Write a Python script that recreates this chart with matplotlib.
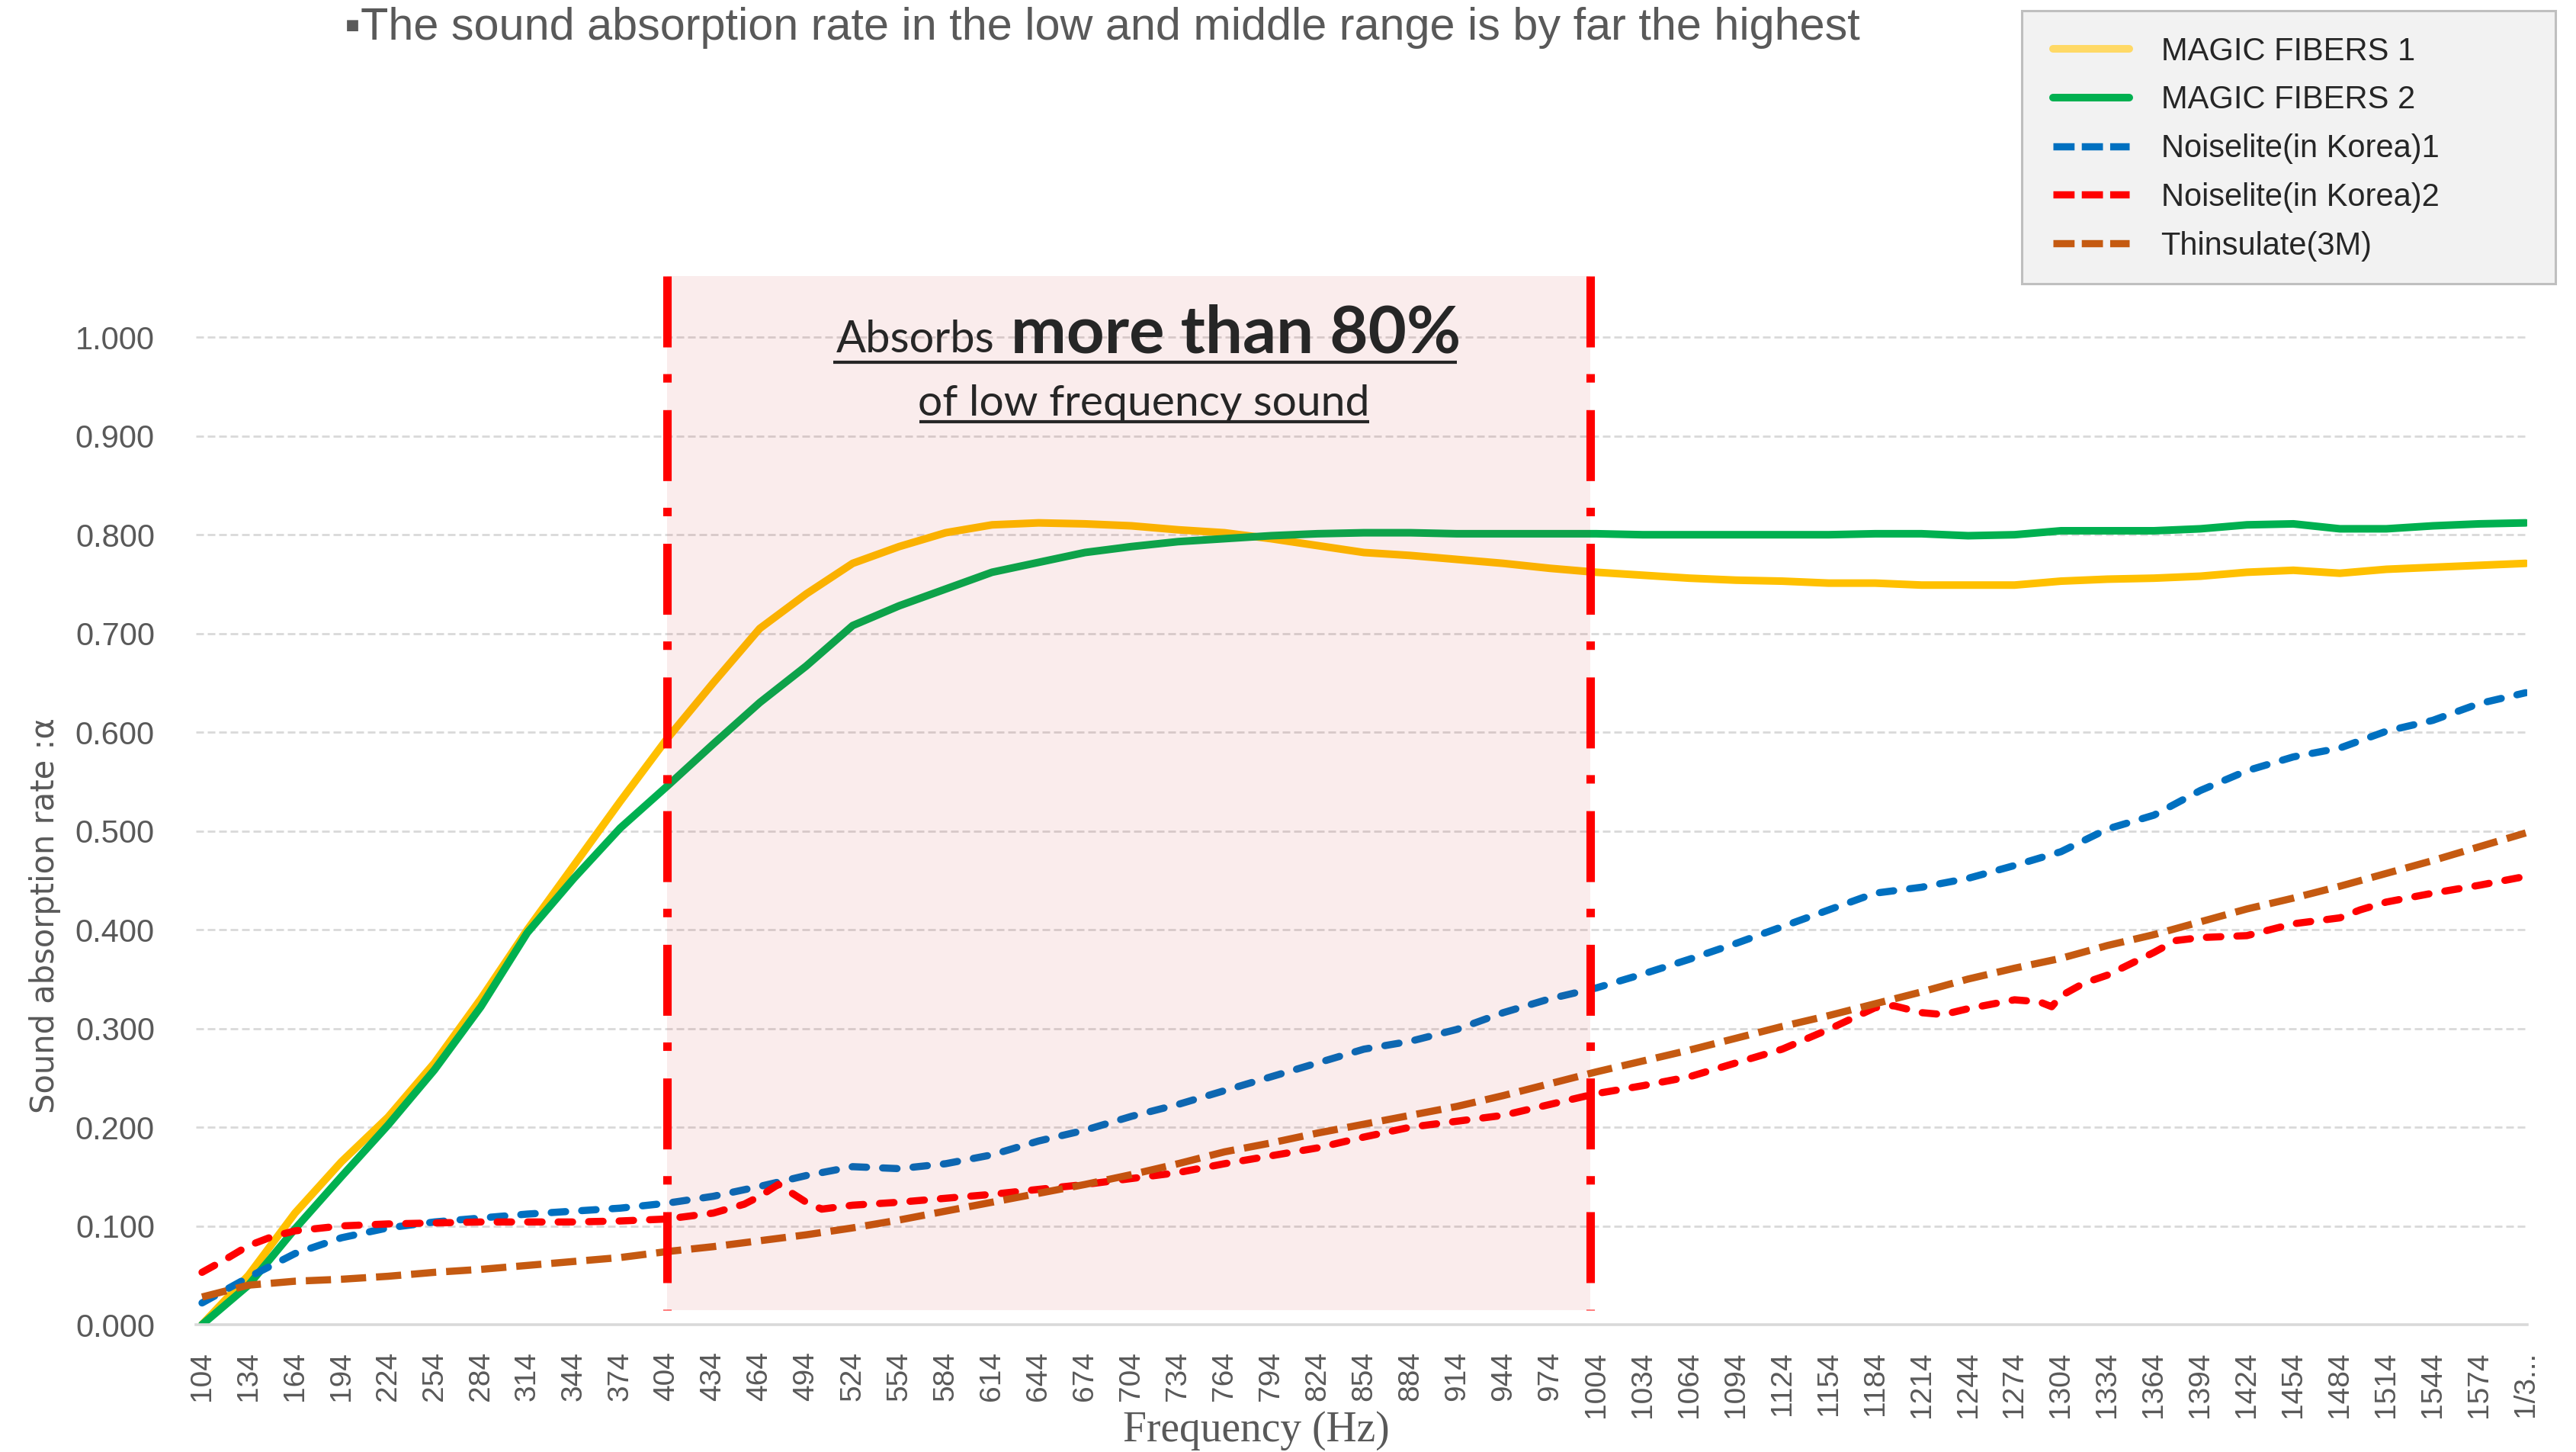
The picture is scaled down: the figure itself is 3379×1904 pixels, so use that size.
import numpy as np
import matplotlib.pyplot as plt
from matplotlib.patches import Rectangle

plt.rcParams['font.family'] = ['Liberation Sans', 'DejaVu Sans']
plt.rcParams['lines.scale_dashes'] = False

# category axis (Hz), one label every 30 categories
freq = [104, 134, 164, 194, 224, 254, 284, 314, 344, 374,
        404, 434, 464, 494, 524, 554, 584, 614, 644, 674,
        704, 734, 764, 794, 824, 854, 884, 914, 944, 974,
        1004, 1034, 1064, 1094, 1124, 1154, 1184, 1214, 1244, 1274,
        1304, 1334, 1364, 1394, 1424, 1454, 1484, 1514, 1544, 1574,
        1604]
tick_labels = [str(f) for f in freq[:-1]] + ['1/3...']

magic1 = [0.000, 0.050, 0.113, 0.165, 0.210, 0.265, 0.330, 0.400, 0.465, 0.530,
          0.593, 0.650, 0.705, 0.740, 0.771, 0.788, 0.802, 0.810, 0.812, 0.811,
          0.809, 0.805, 0.802, 0.796, 0.789, 0.782, 0.779, 0.775, 0.771, 0.766,
          0.762, 0.759, 0.756, 0.754, 0.753, 0.751, 0.751, 0.749, 0.749, 0.749,
          0.753, 0.755, 0.756, 0.758, 0.762, 0.764, 0.761, 0.765, 0.767, 0.769,
          0.771]
magic2 = [0.000, 0.040, 0.097, 0.150, 0.202, 0.258, 0.322, 0.397, 0.452, 0.503,
          0.545, 0.588, 0.630, 0.667, 0.708, 0.728, 0.745, 0.762, 0.772, 0.782,
          0.788, 0.793, 0.796, 0.799, 0.801, 0.802, 0.802, 0.801, 0.801, 0.801,
          0.801, 0.800, 0.800, 0.800, 0.800, 0.800, 0.801, 0.801, 0.799, 0.800,
          0.804, 0.804, 0.804, 0.806, 0.810, 0.811, 0.806, 0.806, 0.809, 0.811,
          0.812]
noise1 = [0.022, 0.048, 0.072, 0.088, 0.098, 0.104, 0.108, 0.112, 0.115, 0.118,
          0.123, 0.130, 0.140, 0.151, 0.160, 0.158, 0.163, 0.172, 0.186, 0.197,
          0.211, 0.223, 0.237, 0.251, 0.265, 0.279, 0.287, 0.299, 0.316, 0.330,
          0.341, 0.355, 0.370, 0.386, 0.403, 0.420, 0.437, 0.443, 0.452, 0.465,
          0.479, 0.502, 0.516, 0.541, 0.561, 0.575, 0.584, 0.601, 0.612, 0.629,
          0.640]
thinsulate = [0.028, 0.040, 0.044, 0.046, 0.049, 0.053, 0.056, 0.060, 0.064, 0.068,
              0.074, 0.079, 0.085, 0.091, 0.098, 0.106, 0.115, 0.124, 0.133, 0.142,
              0.152, 0.163, 0.175, 0.184, 0.194, 0.203, 0.212, 0.221, 0.232, 0.244,
              0.256, 0.267, 0.278, 0.290, 0.302, 0.313, 0.325, 0.337, 0.350, 0.361,
              0.371, 0.384, 0.395, 0.408, 0.421, 0.432, 0.444, 0.457, 0.470, 0.484,
              0.498]
# Noiselite 2 has a few more wiggles, read at extra points
freq2 = [104, 119, 134, 149, 164, 194, 224, 254, 284, 314,
         344, 374, 404, 434, 454, 464, 476, 494, 504, 524,
         554, 584, 614, 644, 674, 704, 734, 764, 794, 824,
         854, 884, 914, 944, 974, 1004, 1034, 1064, 1094, 1124,
         1154, 1184, 1196, 1214, 1228, 1244, 1274, 1290, 1298, 1304,
         1319, 1334, 1364, 1378, 1394, 1424, 1454, 1484, 1497, 1514,
         1544, 1574, 1604]
noise2 = [0.053, 0.066, 0.080, 0.089, 0.095, 0.100, 0.102, 0.103, 0.104, 0.104,
          0.104, 0.105, 0.107, 0.113, 0.122, 0.130, 0.142, 0.124, 0.117, 0.121,
          0.124, 0.128, 0.132, 0.137, 0.142, 0.148, 0.154, 0.163, 0.171, 0.179,
          0.190, 0.200, 0.206, 0.212, 0.223, 0.234, 0.242, 0.251, 0.265, 0.279,
          0.299, 0.321, 0.323, 0.316, 0.314, 0.320, 0.329, 0.327, 0.322, 0.333,
          0.346, 0.354, 0.377, 0.389, 0.392, 0.394, 0.406, 0.412, 0.420, 0.428,
          0.437, 0.445, 0.454]

yticks = [0.0, 0.1, 0.2, 0.3, 0.4, 0.5, 0.6, 0.7, 0.8, 0.9, 1.0]
band = (404, 1000)

fig = plt.figure(figsize=(16.9, 9.52), dpi=200)
ax = fig.add_axes([0.0760, 0.0877, 0.9048, 0.7222])

dash_nl = (0, (6.8, 7.6))
ax.plot(freq, magic1, color='#ffc000', lw=3.6, solid_capstyle='round', label='MAGIC FIBERS 1', zorder=2)
ax.plot(freq, magic2, color='#00b050', lw=3.6, solid_capstyle='round', label='MAGIC FIBERS 2', zorder=2)
ax.plot(freq, noise1, color='#0070c0', lw=3.4, ls=dash_nl, dash_capstyle='round',
        label='Noiselite(in Korea)1', zorder=2)
ax.plot(freq2, noise2, color='#ff0000', lw=3.4, ls=dash_nl, dash_capstyle='round',
        label='Noiselite(in Korea)2', zorder=2)
ax.plot(freq, thinsulate, color='#c55a11', lw=3.4, ls=(0, (11.9, 4.7)), dash_capstyle='butt',
        label='Thinsulate(3M)', zorder=2)

ax.set_xlim(100, 1605)
ax.set_ylim(0, 1.062)

# highlighted low frequency band
ax.add_patch(Rectangle((band[0], 0.015), band[1] - band[0], 1.062 - 0.015,
                       facecolor='#c00000', alpha=0.075, lw=0, zorder=3))
for xb in band:
    ax.plot([xb, xb], [1.062, 0.015], color='#ff0000', lw=4, ls=(0, (33.5, 12.6, 4, 13)),
            dash_capstyle='butt', zorder=4, clip_on=False)

ax.text(615.6, 0.9846, 'Absorbs', ha='right', va='baseline', fontsize=20.8,
        family='Lato', color='#262626', zorder=6)
ax.text(626, 0.9846, 'more than 80%', ha='left', va='baseline', fontsize=31.3,
        family='Lato', fontweight='bold', color='#262626', zorder=6)
ax.plot([511.3, 913.8], [0.9745, 0.9745], color='#262626', lw=1.5, solid_capstyle='butt', zorder=6)
ax.text(712, 0.9205, 'of low frequency sound', ha='center', va='baseline', fontsize=20.5,
        family='Lato', color='#262626', zorder=6)
ax.plot([567, 857.2], [0.9143, 0.9143], color='#262626', lw=1.5, solid_capstyle='butt', zorder=6)

ax.set_xticks(freq)
ax.set_xticklabels(tick_labels, rotation=90)
ax.set_yticks(yticks)
ax.set_yticklabels(['%.3f' % v for v in yticks])
ax.tick_params(axis='x', length=0, pad=12.6, labelsize=14, labelcolor='#595959')
ax.tick_params(axis='y', length=0, pad=19.4, labelsize=15, labelcolor='#595959')
ax.yaxis.grid(True, color='#d9d9d9', lw=1.0, ls=(0, (3.6, 1.8)))
ax.set_axisbelow(True)
for s in ['top', 'right', 'left']:
    ax.spines[s].set_visible(False)
ax.spines['bottom'].set_color('#d9d9d9')
ax.spines['bottom'].set_linewidth(1.3)

fig.text(0.01746, 0.3697, 'Sound absorption rate :α', rotation=90, ha='center', va='center',
         fontsize=15, family='DejaVu Sans', color='#595959')
fig.text(0.4876, 0.0074, 'Frequency (Hz)', ha='center', va='baseline', fontsize=20,
         family='Liberation Serif', color='#595959')
fig.text(0.1337, 0.9727, '▪The sound absorption rate in the low and middle range is by far the highest',
         ha='left', va='baseline', fontsize=21.4, color='#595959')

# legend box
fig.patches.append(Rectangle((0.7846, 0.8046), 0.2071, 0.1880, transform=fig.transFigure,
                             facecolor='#f2f2f2', edgecolor='#bfbfbf', lw=1.1, zorder=0))
leg = fig.legend(loc='upper left', bbox_to_anchor=(0.7967, 0.975), frameon=False, fontsize=15,
                 handlelength=2.4, handletextpad=1.0, labelspacing=0.57, borderpad=0,
                 borderaxespad=0, labelcolor='#262626')
leg.legend_handles[0].set_color('#ffd966')
for h in leg.legend_handles[2:]:
    h.set_linestyle((0, (10, 3.4)))
    h.set_dash_capstyle('butt')

fig.savefig('out.png', dpi=200)
